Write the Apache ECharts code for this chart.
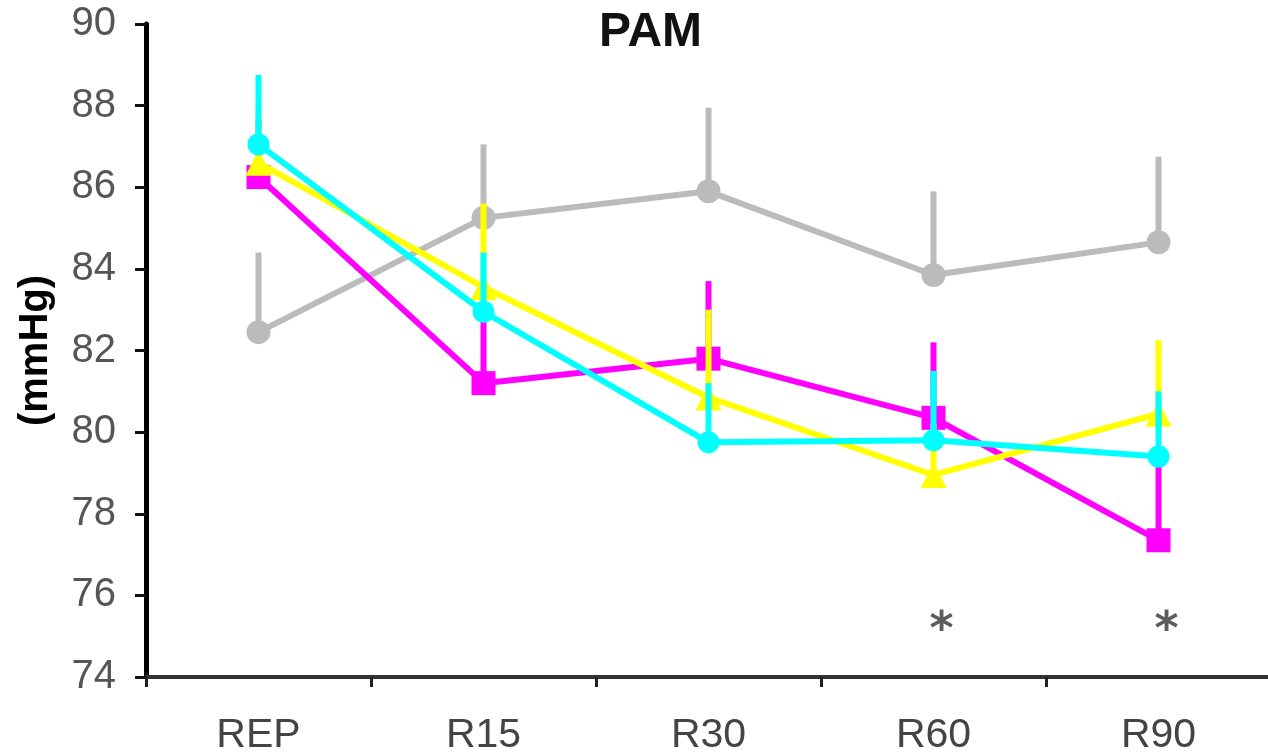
<!DOCTYPE html>
<html>
<head>
<meta charset="utf-8">
<title>PAM</title>
<script src="https://cdn.jsdelivr.net/npm/echarts@6/dist/echarts.min.js"></script>
<style>
  html, body { margin: 0; padding: 0; background: #fff; }
  #main { width: 1268px; height: 756px; }
</style>
</head>
<body>
<div id="main"></div>
<script>
// categories + y ticks
var categories = ['REP', 'R15', 'R30', 'R60', 'R90'];
var yMin = 74, yMax = 90, yStep = 2;

// means (mmHg)
var grayMean    = [82.45, 85.25, 85.9, 83.85, 84.65];
var magentaMean = [86.25, 81.2, 81.8, 80.35, 77.35];
var yellowMean  = [86.6, 83.55, 80.85, 78.95, 80.45];
var cyanMean    = [87.05, 82.95, 79.75, 79.8, 79.4];

// top of the (upper only) error bars
var grayTop    = [84.4, 87.05, 87.95, 85.9, 86.75];
var magentaTop = [87.65, 82.75, 83.7, 82.2, 79.4];
var yellowTop  = [87.9, 85.6, 83.0, 80.2, 82.25];
var cyanTop    = [88.75, 84.4, 81.2, 81.5, 81.0];

// significance marks
var starCats = ['R60', 'R90'];
var starY = 75.4;

var chart = echarts.init(document.getElementById('main'));

function errData(mean, top){
	var out = [];
	for (var i = 0; i < mean.length; i++) {
		out.push([i, mean[i], top[i]]);
	}
	return out;
}

function errSeries(name, color, mean, top, z){
	return {
		name: name + ' err',
		type: 'custom',
		z: z,
		data: errData(mean, top),
		renderItem: function(params, api){
			var p0 = api.coord([api.value(0), api.value(1)]);
			var p1 = api.coord([api.value(0), api.value(2)]);
			return {
				type: 'line',
				shape: { x1: p0[0], y1: p0[1], x2: p1[0], y2: p1[1] },
				style: { stroke: color, lineWidth: 6 }
			};
		}
	};
}

function lineSeries(name, color, data, symbol, size, z){
	return {
		name: name,
		type: 'line',
		z: z,
		data: data,
		symbol: symbol,
		symbolSize: size,
		lineStyle: { color: color, width: 6 },
		itemStyle: { color: color },
		animation: false
	};
}

var stars = [];
for (var s = 0; s < starCats.length; s++) {
	stars.push([starCats[s], starY]);
}

var option = {
	animation: false,
	backgroundColor: '#fff',
	title: {
		text: 'PAM',
		left: 594,
		top: 4,
		textStyle: { fontFamily: 'Liberation Sans', fontSize: 48, fontWeight: 'bold', color: '#111' }
	},
	grid: { left: 146, right: -3, top: 24, bottom: 79, containLabel: false, outerBoundsMode: 'none' },
	xAxis: {
		type: 'category',
		data: categories,
		boundaryGap: true,
		axisLine: { lineStyle: { color: '#333', width: 4 } },
		axisTick: { show: true, inside: false, length: 10, lineStyle: { color: '#222', width: 3 } },
		axisLabel: { margin: 38, fontFamily: 'Liberation Sans', fontSize: 41, color: '#444' },
		splitLine: { show: false }
	},
	yAxis: {
		type: 'value',
		min: yMin,
		max: yMax,
		interval: yStep,
		name: '(mmHg)',
		nameLocation: 'middle',
		nameRotate: 90,
		nameGap: 90,
		nameTextStyle: { fontFamily: 'Liberation Sans', fontSize: 40, fontWeight: 'bold', color: '#000' },
		axisLine: { show: true, lineStyle: { color: '#000', width: 5 } },
		axisTick: { show: true, inside: false, length: 11, lineStyle: { color: '#111', width: 3 } },
		axisLabel: { margin: 30, fontFamily: 'Liberation Sans', fontSize: 40, color: '#555' },
		splitLine: { show: false }
	},
	series: [
		errSeries('gray', '#bbbbbb', grayMean, grayTop, 2),
		lineSeries('gray', '#bbbbbb', grayMean, 'circle', 24, 3),
		errSeries('magenta', '#ff00ff', magentaMean, magentaTop, 4),
		lineSeries('magenta', '#ff00ff', magentaMean, 'rect', 24, 5),
		errSeries('yellow', '#ffff00', yellowMean, yellowTop, 6),
		lineSeries('yellow', '#ffff00', yellowMean, 'triangle', 26, 7),
		errSeries('cyan', '#00ffff', cyanMean, cyanTop, 8),
		lineSeries('cyan', '#00ffff', cyanMean, 'circle', 22, 9),
		{
			name: 'sig',
			type: 'scatter',
			z: 10,
			data: stars,
			symbolSize: 2,
			itemStyle: { color: 'rgba(255,255,255,0)' },
			label: {
				show: true,
				formatter: '*',
				position: 'inside',
				offset: [8, 12],
				fontFamily: 'DejaVu Sans',
				fontWeight: 'bold',
				fontSize: 46,
				color: '#333'
			}
		}
	]
};

chart.setOption(option);
</script>
</body>
</html>
